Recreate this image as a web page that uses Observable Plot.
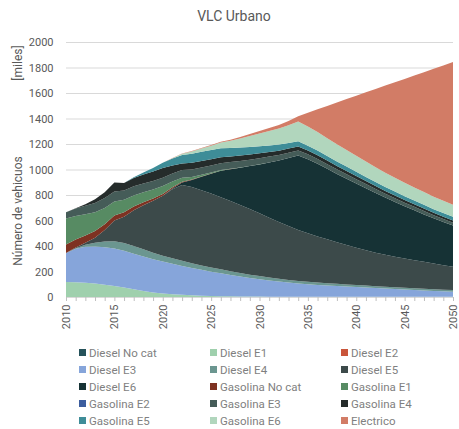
<!DOCTYPE html>
<html><head><meta charset="utf-8">
<script src="https://cdn.jsdelivr.net/npm/d3@7"></script>
<script src="https://cdn.jsdelivr.net/npm/@observablehq/plot@0.6"></script>
<style>
body{margin:0;background:#fff;font-family:Roboto,"Liberation Sans",sans-serif;}
#wrap{position:relative;width:459px;height:429px;overflow:hidden;}
#title{position:absolute;top:8px;left:0;width:468px;text-align:center;font-size:14px;color:#595959;}
#chart{position:absolute;top:30px;left:0;}
.ylab{position:absolute;left:18px;white-space:nowrap;font-size:12px;color:#595959;transform:translate(-50%,-50%) rotate(-90deg);}
#legend{position:absolute;left:79px;top:344px;display:grid;grid-template-columns:131px 131px 118px;grid-auto-rows:17px;font-size:11.5px;color:#7f7f7f;}
.item{display:flex;align-items:center;white-space:nowrap;}
.sw{width:7px;height:7px;margin-right:3px;flex:none;}
</style></head>
<body>
<div id="wrap">
  <div id="title">VLC Urbano</div>
  <div id="chart"></div>
  <div class="ylab" style="top:63px">[miles]</div>
  <div class="ylab" style="top:211px">Número de vehicuos</div>
  <div id="legend"></div>
</div>
<script>
const years = [2010,2011,2012,2013,2014,2015,2016,2017,2018,2019,2020,2021,2022,2023,2024,2025,2026,2027,2028,2029,2030,2031,2032,2033,2034,2035,2036,2037,2038,2039,2040,2041,2042,2043,2044,2045,2046,2047,2048,2049,2050];
const yTicks = [0,200,400,600,800,1000,1200,1400,1600,1800,2000];

const seriesNames = ["Diesel No cat","Diesel E1","Diesel E2","Diesel E3","Diesel E4","Diesel E5","Diesel E6","Gasolina No cat","Gasolina E1","Gasolina E2","Gasolina E3","Gasolina E4","Gasolina E5","Gasolina E6","Electrico"];
const colors = ["#25525a","#9fd0ad","#c9553b","#86a5da","#6b9690","#3c4a4a","#163235","#7e3222","#578b63","#3c5d9e","#455c58","#252c2b","#3e8d98","#b1d6bd","#d27c66"];

const dieselNoCat = [0,0,0,0,0,0,0,0,0,0,0, 0,0,0,0,0,0,0,0,0,0, 0,0,0,0,0,0,0,0,0,0, 0,0,0,0,0,0,0,0,0,0];
const dieselE1 = [118,116,112,105,96,86,74,60,47,36,28, 22,17,13,10,8,6,5,4,3,3, 2,2,2,2,1,1,1,1,1,1, 1,1,1,1,1,1,1,1,1,1];
const dieselE2 = [0,0,0,0,0,0,0,0,0,0,0, 0,0,0,0,0,0,0,0,0,0, 0,0,0,0,0,0,0,0,0,0, 0,0,0,0,0,0,0,0,0,0];
const dieselE3 = [227,262,283,291,294,294,288,280,271,261,250, 238,227,215,203,191,180,168,157,147,137, 128,119,111,104,99,94,89,85,81,77, 73,69,65,61,57,54,50,47,44,41];
const dieselE4 = [0,5,15,30,45,57,62,60,56,51,46, 43,40,37,35,33,31,29,27,25,24, 23,22,21,20,19,18,18,17,17,16, 16,15,15,14,14,13,13,13,12,12];
const dieselE5 = [0,5,15,39,90,163,206,280,346,407,471, 542,594,597,590,580,566,550,533,515,493, 469,445,422,400,381,362,344,327,308,292, 276,262,250,239,229,221,212,202,193,184];
const dieselE6 = [0,0,0,0,0,0,0,0,0,0,0, 6,20,55,105,155,207,250,293,337,383, 433,482,534,584,580,570,553,535,521,504, 487,469,449,430,411,391,372,354,338,322];
const gasNoCat = [66,63,58,53,46,40,35,29,23,18,13, 9,6,4,3,2,1,1,0,0,0, 0,0,0,0,0,0,0,0,0,0, 0,0,0,0,0,0,0,0,0,0];
const gasE1 = [204,185,166,147,127,110,97,87,78,70,62, 46,31,20,13,8,5,3,2,1,1, 0,0,0,0,0,0,0,0,0,0, 0,0,0,0,0,0,0,0,0,0];
const gasE2 = [0,0,0,0,0,0,0,0,0,0,0, 0,0,0,0,0,0,0,0,0,0, 0,0,0,0,0,0,0,0,0,0, 0,0,0,0,0,0,0,0,0,0];
const gasE3 = [50,58,66,73,78,78,73,73,70,67,65, 63,61,59,57,55,54,52,51,49,48, 46,44,42,40,39,38,37,36,35,34, 33,31,30,29,28,27,26,24,23,22];
const gasE4 = [0,2,12,28,45,70,60,65,70,74,77, 62,52,52,50,48,46,44,42,40,38, 36,34,32,31,30,29,28,27,26,25, 24,23,22,22,21,20,20,19,19,18];
const gasE5 = [0,0,0,0,0,0,0,5,15,28,40, 55,66,72,73,72,70,67,64,60,56, 52,48,44,40,38,37,36,35,34,33, 32,32,31,31,30,30,30,29,29,29];
const gasE6 = [0,0,0,0,0,0,0,0,0,0,0, 3,10,18,26,35,45,56,70,86,100, 113,126,140,156,150,145,140,135,130,125, 120,116,112,108,105,102,100,98,96,94];
const electrico = [0,0,0,0,0,0,0,0,0,0,1, 1,2,3,4,5,7,9,12,15,19, 23,28,33,40,109,179,253,328,399,471, 543,613,683,749,814,878,939,1003,1061,1120];

const seriesValues = [dieselNoCat,dieselE1,dieselE2,dieselE3,dieselE4,dieselE5,dieselE6,gasNoCat,gasE1,gasE2,gasE3,gasE4,gasE5,gasE6,electrico];

const rows = [];
seriesNames.forEach((name, si) => {
  years.forEach((yr, i) => rows.push({series: name, year: yr, value: seriesValues[si][i]}));
});

const chart = Plot.plot({
  width: 459, height: 310,
  marginLeft: 66, marginRight: 6, marginTop: 12, marginBottom: 43,
  style: {fontFamily: "Roboto, 'Liberation Sans', sans-serif", fontSize: "11px", color: "#595959", background: "transparent", overflow: "visible"},
  x: {domain: [2010, 2050]},
  y: {domain: [0, 2000]},
  color: {domain: seriesNames, range: colors},
  marks: [
    Plot.gridY(yTicks, {stroke: "#d9d9d9", strokeOpacity: 1}),
    Plot.areaY(rows, {x: "year", y: "value", fill: "series", z: "series", order: null}),
    Plot.ruleY([0], {stroke: "#d9d9d9"}),
    Plot.axisY(yTicks, {tickSize: 0, tickPadding: 13, tickFormat: d => String(d), label: null, fill: "#595959"}),
    Plot.axisX(years, {tickSize: 4, tickPadding: 3, tickFormat: d => d % 5 === 0 ? String(d) : "", tickRotate: -90, label: null, stroke: "#bfbfbf", fill: "#595959"})
  ]
});
document.getElementById("chart").appendChild(chart);

const legend = document.getElementById("legend");
seriesNames.forEach((name, i) => {
  const it = document.createElement("div");
  it.className = "item";
  const sw = document.createElement("span");
  sw.className = "sw";
  sw.style.background = colors[i];
  const tx = document.createElement("span");
  tx.textContent = name;
  it.appendChild(sw); it.appendChild(tx);
  legend.appendChild(it);
});
</script>
</body></html>
